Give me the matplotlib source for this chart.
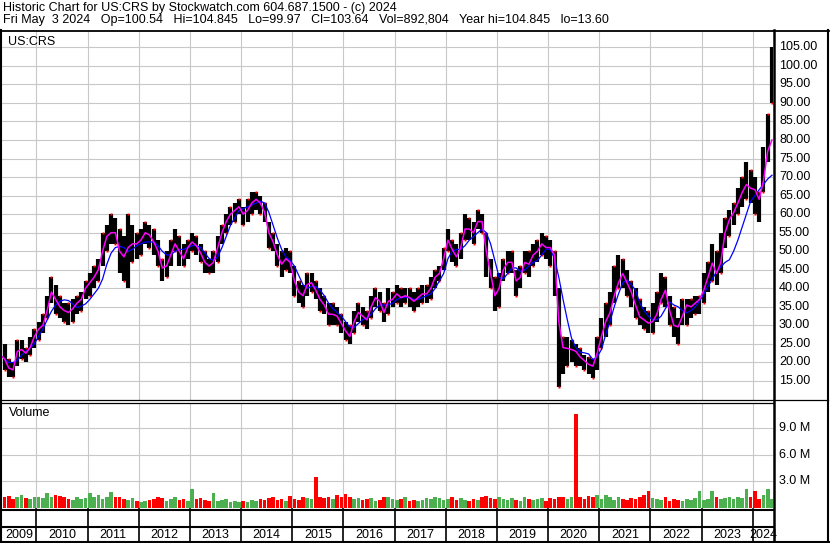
import numpy as np
import pandas as pd
import matplotlib
matplotlib.use("Agg")
import matplotlib.pyplot as plt
from matplotlib.lines import Line2D
from matplotlib import transforms

plt.rcParams["font.family"] = ["Liberation Sans", "DejaVu Sans"]

W, H = 830, 543
FS = 9.0  # ~12.5 px

# monthly bars, Apr 2009 .. May 2024
months = pd.period_range("2009-04", "2024-05", freq="M")

hi = [
    26, 25, 21, 20, 26, 26, 24, 27, 29,                      # 2009
    31, 33, 38, 43, 41, 38, 36, 36, 37, 38, 39, 42,          # 2010
    44, 46, 48, 55, 57, 60, 59, 56, 54, 60, 57, 55,          # 2011
    56, 58, 57, 56, 53, 48, 50, 53, 56, 54, 52, 53,          # 2012
    55, 54, 52, 50, 48, 50, 54, 57, 60, 62, 63, 64,          # 2013
    62, 64, 66, 66, 65, 63, 58, 55, 52, 50, 51, 50,          # 2014
    46, 42, 41, 44, 44, 42, 40, 38, 36, 36, 35, 33,          # 2015
    31, 30, 34, 36, 35, 34, 38, 40, 39, 36, 40, 39,          # 2016
    41, 40, 40, 40, 39, 40, 41, 41, 43, 45, 46, 51,          # 2017
    56, 53, 52, 55, 60, 59, 58, 61, 60, 55, 48, 43,          # 2018
    44, 48, 50, 50, 45, 46, 50, 50, 52, 53, 55, 54,          # 2019
    53, 50, 40, 27, 27, 26, 25, 24, 22, 21.5, 21, 27,        # 2020
    32, 36, 39, 46, 49, 48, 45, 42, 40, 37, 35, 34,          # 2021
    36, 39, 44, 43, 38, 35, 32, 37, 37, 37, 38, 38,          # 2022
    44, 47, 52, 50, 55, 59, 61, 63, 67, 70, 74, 72,          # 2023
    70, 66, 78, 87, 105,                                     # 2024
]
lo = [
    19, 18, 16, 16, 19, 21, 20, 22, 24,
    26, 28, 32, 36, 33, 32, 31, 30, 31, 33, 34, 37,
    38, 40, 42, 46, 50, 52, 52, 44, 42, 40, 47, 48,
    49, 52, 51, 49, 46, 42, 43, 46, 50, 46, 46, 48,
    50, 49, 47, 44, 44, 44, 47, 52, 55, 57, 58, 60,
    57, 58, 60, 61, 60, 58, 51, 50, 46, 43, 45, 44,
    38, 36, 35, 38, 39, 37, 34, 33, 30, 30, 30, 28,
    26, 25, 28, 31, 30, 29, 32, 35, 34, 31, 33, 35,
    36, 35, 36, 35, 34, 35, 36, 36, 37, 40, 42, 45,
    50, 47, 46, 48, 53, 53, 52, 56, 55, 43, 40, 34,
    35, 42, 44, 44, 38, 40, 44, 43, 46, 47, 49, 48,
    46, 38, 13.5, 17, 19, 20, 19, 19, 18, 17, 15.8, 18,
    24, 27, 30, 36, 40, 40, 38, 35, 32, 30, 29, 28,
    28, 31, 36, 35, 30, 27, 25, 30, 30, 32, 33, 33,
    36, 39, 42, 41, 44, 51, 54, 57, 60, 62, 64, 63,
    60, 58, 66, 74, 90,
]
# short moving average (magenta)
ma_fast = [
    22, 21, 18.5, 18, 23, 23.5, 22.5, 24, 27,
    29, 30, 34, 39, 37, 35, 34, 33.5, 34.5, 36, 37, 40,
    41.5, 43, 45, 50, 54, 55, 55, 50, 48.5, 51, 52, 52,
    53, 55, 54.4, 52.5, 50, 45.5, 46, 49, 52, 50, 48, 51,
    52.5, 51.5, 49.5, 47, 46, 47, 51, 55, 58, 60, 61, 62,
    60, 61, 63, 64, 63, 60.5, 55, 52.5, 49, 46.5, 48, 47,
    42, 39, 38, 41, 41.5, 39.5, 37, 35.5, 33, 33, 32.5, 30.5,
    28.5, 27, 31, 33.5, 32.5, 31.5, 35, 37.5, 36.5, 33.5, 36.5, 37,
    38.5, 37.5, 38, 37.5, 36.5, 37.5, 38.5, 38.5, 40, 43, 44, 48,
    53, 50.5, 48.5, 51, 56, 56, 55, 58, 58, 50, 44, 38,
    40, 45, 47, 47, 42, 43, 47, 46.5, 49, 50, 52, 51,
    51, 49, 31, 24, 23.8, 23.5, 23, 21.5, 20.5, 19.5, 19, 22.5,
    27, 31, 33.4, 38, 41.5, 44, 41.5, 39, 35.5, 32.3, 31.5, 30.6,
    31, 33, 37, 39.5, 34, 30, 29.6, 32.5, 35.5, 35, 36, 37,
    39.5, 43, 46.8, 44, 47, 55, 58.5, 60.4, 63, 65.8, 68, 67,
    66.6, 64, 69, 77, 80,
]
# long moving average (blue)
ma_slow = [
    22, 21, 20, 20, 20.5, 22, 23, 24, 25,
    27, 29, 31.5, 33.8, 35.5, 36.5, 36.9, 36.7, 35.8, 34.8, 35.2, 35.8,
    37, 38.5, 40, 42.5, 46.5, 49.5, 51, 51.3, 51, 50, 50.5, 51.5,
    52, 52.5, 52.5, 52.5, 51.5, 50, 49, 49, 50, 50.5, 50.5, 51,
    51.5, 51.5, 51, 49.5, 48, 47.5, 48.5, 51, 54, 57, 59, 61,
    61.5, 62, 62.5, 63, 63.5, 63, 60.5, 57, 53.5, 50.5, 48.5, 47.5,
    46, 43.5, 41, 40, 40.5, 40.5, 39.5, 38, 36, 34.5, 33.5, 32.5,
    31, 29.5, 29.5, 30.5, 31.5, 32, 33, 34.5, 35.5, 35.5, 35.5, 36,
    37, 37.5, 37.5, 37.5, 37, 37, 37.5, 38, 38.5, 40, 42, 44,
    48, 50, 50.5, 50.5, 51.5, 53, 54, 55, 56, 55, 52, 47.5,
    43, 42.5, 44, 45.5, 45.5, 44.5, 45, 46, 47, 47.5, 49, 50.5,
    50.5, 48, 43, 37, 31.5, 26.5, 24, 22.8, 22.6, 22.3, 20.8, 21.5,
    23.5, 27.5, 31, 35, 38.5, 41.5, 42.3, 41, 39.5, 36, 34, 32.5,
    31.5, 31.5, 32.5, 34.5, 36.3, 35.5, 35, 34, 33.4, 34, 35, 36.5,
    38.5, 40.5, 42.5, 44.5, 45.8, 47, 47.7, 50, 53, 56.5, 60, 63.5,
    65, 66.6, 68, 69.5, 70.5,
]
# volume, millions
volume = [
    1.5, 1.2, 1.4, 1.0, 1.2, 1.5, 1.1, 1.0, 1.3,
    1.2, 1.1, 1.7, 1.3, 1.5, 1.4, 1.2, 1.0, 0.9, 1.3, 1.0, 1.1,
    1.7, 1.2, 1.5, 1.0, 1.3, 1.8, 1.2, 1.3, 1.0, 0.9, 1.1, 0.8,
    0.7, 0.8, 0.9, 1.0, 1.2, 1.1, 0.8, 1.0, 1.2, 0.9, 1.0, 0.8,
    2.1, 1.0, 1.1, 0.9, 0.8, 1.7, 0.8, 0.9, 1.0, 0.7, 0.8, 0.7,
    0.8, 0.7, 0.9, 0.8, 1.0, 0.9, 1.1, 1.3, 0.9, 1.0, 0.8, 1.4,
    1.0, 0.9, 1.2, 1.1, 1.0, 3.5, 1.2, 1.1, 1.3, 1.0, 1.5, 1.2,
    1.6, 1.2, 1.0, 1.1, 0.9, 1.0, 1.1, 0.8, 0.9, 1.2, 1.3, 1.0,
    0.9, 1.0, 1.2, 0.8, 0.9, 0.8, 0.9, 1.1, 1.0, 1.3, 1.1, 0.9,
    1.0, 1.2, 0.9, 1.1, 0.9, 0.8, 1.0, 0.9, 1.2, 1.4, 1.1, 1.0,
    1.2, 1.0, 0.9, 1.1, 0.9, 0.8, 1.2, 1.0, 0.9, 1.0, 1.1, 0.8,
    1.1, 1.0, 1.3, 1.2, 1.0, 1.3, 10.6, 1.2, 1.0, 1.4, 1.2, 1.5,
    1.0, 1.5, 1.3, 0.9, 1.2, 1.0, 0.9, 1.1, 1.0, 1.2, 1.5, 1.9,
    1.1, 1.0, 0.9, 1.2, 0.8, 1.0, 0.9, 0.8, 1.0, 0.9, 1.1, 1.9,
    0.9, 1.0, 1.9, 1.2, 1.0, 1.1, 1.3, 1.0, 1.2, 1.1, 2.2, 1.2,
    1.9, 1.0, 1.5, 2.1, 1.0,
]

price_ticks = [15, 20, 25, 30, 35, 40, 45, 50, 55, 60, 65, 70, 75, 80, 85,
               90, 95, 100, 105]
vol_ticks = [3, 6, 9]
years = list(range(2009, 2025))

title1 = "Historic Chart for US:CRS by Stockwatch.com 604.687.1500 - (c) 2024"
title2 = ("Fri May  3 2024   Op=100.54   Hi=104.845   Lo=99.97   "
          "Cl=103.64   Vol=892,804   Year hi=104.845   lo=13.60")

XMIN, XMAX = 2009.316, 2024.395
GRID = "#c8c8c8"


def fx(px):
    return px / W


def fy(py):
    return 1 - py / H


x = months.year + (months.month - 0.5) / 12.0
hi_a, lo_a = np.array(hi, float), np.array(lo, float)
mid = (hi_a + lo_a) / 2
up = np.r_[True, np.diff(mid) >= 0]
vcolors = np.where(up, "#4caf50", "#ff0000")

fig = plt.figure(figsize=(W / 100, H / 100), dpi=100)
fig.patch.set_facecolor("white")

ax = fig.add_axes([fx(1.5), fy(400), fx(773) - fx(1.5), fy(31) - fy(400)])
axv = fig.add_axes([fx(1.5), fy(509), fx(773) - fx(1.5), fy(402.5) - fy(509)])

for a in (ax, axv):
    a.set_xlim(XMIN, XMAX)
    a.set_xticks([])
    a.set_yticks([])
    for s in a.spines.values():
        s.set_visible(False)
    for yr in years[1:]:
        a.axvline(yr, color=GRID, lw=0.8, zorder=0)

ax.set_ylim(9.88, 109.4)
axv.set_ylim(-0.11, 11.91)
for v in price_ticks:
    ax.axhline(v, color=GRID, lw=0.8, zorder=0)
for v in vol_ticks:
    axv.axhline(v, color=GRID, lw=0.8, zorder=0)

# price bars
ax.vlines(x, lo_a, hi_a, color="black", lw=3.0, zorder=2)
ax.plot(x[::2], hi_a[::2], "s", ms=1.6, color="red", mec="none", zorder=3)
ax.plot(x[1::2], lo_a[1::2], "s", ms=1.6, color="red", mec="none", zorder=3)
ax.plot(x, ma_slow, color="#0000ff", lw=0.9, zorder=4)
ax.plot(x, ma_fast, color="#ff00ff", lw=1.1, zorder=5)

# volume
axv.bar(x, volume, width=1 / 12 * 0.85, color=vcolors, lw=0, zorder=2)

# labels on right
tp = transforms.blended_transform_factory(fig.transFigure, ax.transData)
for v in price_ticks:
    fig.text(fx(779), v, f"{v:.2f}", transform=tp, ha="left", va="center",
             fontsize=FS)
tv = transforms.blended_transform_factory(fig.transFigure, axv.transData)
for v in vol_ticks:
    fig.text(fx(779), v, f"{v:.1f} M", transform=tv, ha="left",
             va="center", fontsize=FS)

# titles and panel names
fig.text(fx(3), fy(7.5), title1, ha="left", va="center", fontsize=FS)
fig.text(fx(3), fy(20.5), title2, ha="left", va="center", fontsize=FS)
fig.text(fx(8), fy(42), "US:CRS", ha="left", va="center", fontsize=FS)
fig.text(fx(9), fy(413), "Volume", ha="left", va="center", fontsize=FS)

# year strip
ty = transforms.blended_transform_factory(axv.transData, fig.transFigure)
for yr in years[1:]:
    fig.add_artist(Line2D([yr, yr], [fy(509), fy(542)], transform=ty,
                          color="black", lw=1.2))
for yr in years:
    c = (max(yr, XMIN) + min(yr + 1, XMAX)) / 2
    fig.text(c, fy(535), str(yr), transform=ty, ha="center", va="center",
             fontsize=FS)

# frame
frame = [
    ((0, 829), (30.5, 30.5), 1.3),
    ((0.8, 0.8), (30, 543), 1.5),
    ((828, 828), (30, 543), 1.5),
    ((773.8, 773.8), (30, 543), 1.8),
    ((0, 828), (400, 400), 0.9),
    ((0, 773), (402.8, 402.8), 0.9),
    ((0, 773), (509.5, 509.5), 1.5),
    ((0, 773), (527, 527), 1.5),
    ((0, 829), (542, 542), 1.5),
]
for (x0, x1), (y0, y1), lw in frame:
    fig.add_artist(Line2D([fx(x0), fx(x1)], [fy(y0), fy(y1)],
                          transform=fig.transFigure, color="black", lw=lw))

fig.savefig("out.png", dpi=100)
